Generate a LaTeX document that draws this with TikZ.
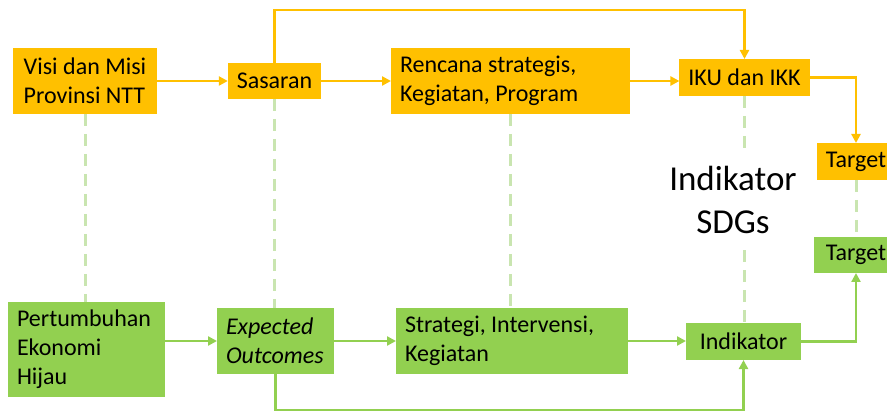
\documentclass[tikz,border=0pt]{standalone}
\usepackage{fontspec}
\setmainfont{Carlito}
\usepackage{tikz}
\usetikzlibrary{calc,positioning,arrows.meta}

\definecolor{ppOrange}{HTML}{FFC000}
\definecolor{ppGreen}{HTML}{92D050}
\definecolor{ppLink}{HTML}{C9E5B0}

\begin{document}
\begin{tikzpicture}[x=1pt,y=-1pt,>={Triangle[length=9pt,width=9pt]},
    font=\fontsize{24}{29}\selectfont,
    box/.style={inner xsep=9pt,inner ysep=0pt,outer sep=0pt},
    obox/.style={box,fill=ppOrange},
    gbox/.style={box,fill=ppGreen},
    oline/.style={->,ppOrange,line width=2.5pt},
    gline/.style={->,ppGreen,line width=2.5pt},
    link/.style={ppLink,line width=3pt,dash pattern=on 12pt off 8pt}]
    \useasboundingbox (0,0) rectangle (887,414);

    % upper row
    \node [obox,align=left,minimum width=144pt,minimum height=66pt] (visi) at (85,81) {Visi dan Misi\\Provinsi NTT};
    \node [obox,minimum width=91pt,minimum height=36pt] (sasaran) at (274.5,81) {Sasaran};
    \node [obox,text width=221pt,align=flush left,minimum height=66pt] (rencana) at (510.5,81) {Rencana strategis,\\Kegiatan, Program};
    \node [obox,minimum width=129pt,minimum height=37pt] (iku) at (744.5,77.5) {IKU dan IKK};
    \node [obox,minimum width=76pt,minimum height=37pt] (targetA) at (856,161.5) {Target};

    % lower row
    \node [gbox,text width=139pt,align=flush left,minimum height=95pt] (pert) at (86.5,349.5) {Pertumbuhan\\Ekonomi\\Hijau};
    \node [gbox,text width=99pt,align=flush left,minimum height=66pt,font=\fontsize{24}{29}\selectfont\itshape] (expected) at (275.5,341) {Expected\\Outcomes};
    \node [gbox,text width=214pt,align=flush left,minimum height=66pt] (strategi) at (512,341) {Strategi, Intervensi,\\Kegiatan};
    \node [gbox,minimum width=115pt,minimum height=37pt] (indik) at (743.5,341.5) {Indikator};
    \node [gbox,minimum width=84pt,minimum height=36pt] (targetB) at (856,255) {Target};

    \node [fill=white,align=center,minimum width=157pt,minimum height=100pt,
        font=\fontsize{35}{43}\selectfont] (sdg) at (733,200) {Indikator\\SDGs};

    \coordinate (topline) at (500,10);
    \coordinate (botline) at (500,410);

    % dashed links between the rows
    \draw [link] (visi.south) -- (visi.south |- pert.north);
    \draw [link] (sasaran.south) -- (sasaran.south |- expected.north);
    \draw [link] (rencana.south) -- (rencana.south |- strategi.north);
    \draw [link] (iku.south) -- (iku.south |- sdg.north);
    \draw [link] (iku.south |- sdg.south) -- (iku.south |- indik.north);
    \draw [link] (targetA.south) -- (targetB.north);

    \draw [oline] (visi) -- (sasaran);
    \draw [oline] (sasaran) -- (rencana);
    \draw [oline] (rencana.east) -- (iku.west |- rencana.east);
    \draw [oline] (sasaran.north) |- (topline) -| (iku.north);
    \draw [oline] (iku.east) -| (targetA.north);

    \draw [gline] (pert.east |- expected.west) -- (expected.west);
    \draw [gline] (expected.east) -- (strategi.west |- expected.east);
    \draw [gline] (strategi.east) -- (indik.west |- strategi.east);
    \draw [gline] (expected.south) |- (botline) -| (indik.south);
    \draw [gline] (indik.east) -| (targetB.south);
\end{tikzpicture}
\end{document}
